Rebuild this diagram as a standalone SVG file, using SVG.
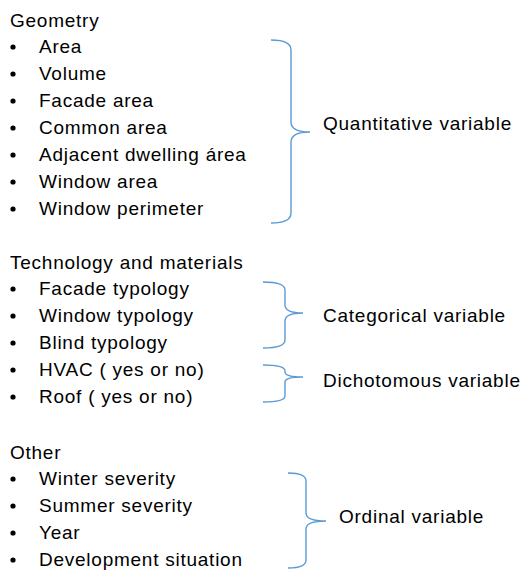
<svg xmlns="http://www.w3.org/2000/svg" width="526" height="570" viewBox="0 0 526 570">
<style>
text{font-family:"Liberation Sans",Arial,sans-serif;font-size:19px;letter-spacing:0.75px;fill:#000}
.b{fill:#000}
.br{fill:none;stroke:#5B9BD5;stroke-width:1.4}
</style>
<rect width="526" height="570" fill="#fff"/>
<g id="geometry">
<text x="10" y="27">Geometry</text>
<circle class="b" cx="13" cy="47" r="2.6"/><text x="39" y="53">Area</text>
<circle class="b" cx="13" cy="74" r="2.6"/><text x="39" y="80">Volume</text>
<circle class="b" cx="13" cy="101" r="2.6"/><text x="39" y="107">Facade area</text>
<circle class="b" cx="13" cy="128" r="2.6"/><text x="39" y="134">Common area</text>
<circle class="b" cx="13" cy="155" r="2.6"/><text x="39" y="161">Adjacent dwelling área</text>
<circle class="b" cx="13" cy="182" r="2.6"/><text x="39" y="188">Window area</text>
<circle class="b" cx="13" cy="209" r="2.6"/><text x="39" y="215">Window perimeter</text>
</g>
<g id="technology">
<text x="10" y="269">Technology and materials</text>
<circle class="b" cx="13" cy="289" r="2.6"/><text x="39" y="295">Facade typology</text>
<circle class="b" cx="13" cy="316" r="2.6"/><text x="39" y="322">Window typology</text>
<circle class="b" cx="13" cy="343" r="2.6"/><text x="39" y="349">Blind typology</text>
<circle class="b" cx="13" cy="370" r="2.6"/><text x="39" y="376">HVAC ( yes or no)</text>
<circle class="b" cx="13" cy="397" r="2.6"/><text x="39" y="403">Roof ( yes or no)</text>
</g>
<g id="other">
<text x="10" y="459">Other</text>
<circle class="b" cx="13" cy="479" r="2.6"/><text x="39" y="485">Winter severity</text>
<circle class="b" cx="13" cy="506" r="2.6"/><text x="39" y="512">Summer severity</text>
<circle class="b" cx="13" cy="533" r="2.6"/><text x="39" y="539">Year</text>
<circle class="b" cx="13" cy="560" r="2.6"/><text x="39" y="566">Development situation</text>
</g>
<g id="connectors">
<path class="br" d="M271,40 Q291,40 291,50 L291,122 Q291,132 310,132 Q291,132 291,142 L291,213 Q291,223 271,223"/>
<path class="br" d="M263,282 Q285,282 285,290 L285,305 Q285,313 303,313 Q285,313 285,321 L285,340 Q285,348 263,348"/>
<path class="br" d="M263,365 Q285,365 285,371 L285,372 Q285,377 303,377 Q285,377 285,382 L285,396 Q285,402 263,402"/>
<path class="br" d="M288,473 Q306,473 306,481 L306,513 Q306,521 326,521 Q306,521 306,529 L306,560 Q306,568 288,568"/>
</g>
<g id="quantitative"><text x="323" y="130">Quantitative variable</text></g>
<g id="categorical"><text x="323" y="322">Categorical variable</text></g>
<g id="dichotomous"><text x="323" y="387">Dichotomous variable</text></g>
<g id="ordinal"><text x="339" y="523">Ordinal variable</text></g>
</svg>
